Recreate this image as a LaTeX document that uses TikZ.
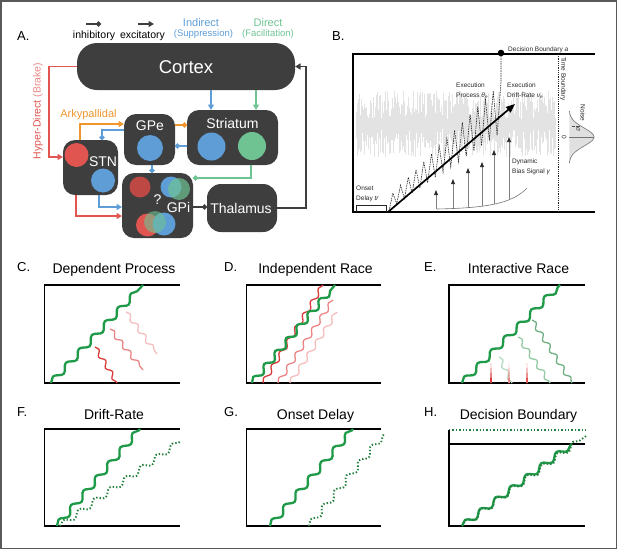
\documentclass[tikz,border=0pt]{standalone}
\usepackage{fontspec}
\setmainfont{Liberation Sans}
\usetikzlibrary{arrows.meta,decorations.pathmorphing}
\newcommand\myfs[1]{\fontsize{#1}{#1}\selectfont}
\definecolor{boxg}{HTML}{3E3E3E}
\definecolor{ablue}{HTML}{5E9DD6}
\definecolor{agreen}{HTML}{6FC393}
\definecolor{ared}{HTML}{E05550}
\definecolor{alred}{HTML}{EA8A86}
\definecolor{aorange}{HTML}{F0962E}
\definecolor{cgreen}{HTML}{1E9A48}
\definecolor{dgreen}{HTML}{23803E}
\definecolor{cred}{HTML}{D93A3A}
\definecolor{cpink}{HTML}{EB8585}
\definecolor{clight}{HTML}{F5BDBD}
\definecolor{elight}{HTML}{B5DCC0}
\definecolor{emid}{HTML}{94CBA4}
\definecolor{edark}{HTML}{6FAE83}
\begin{document}
\begin{tikzpicture}[x=1pt,y=-1pt,
  region/.style={fill=boxg, rounded corners=12pt, inner sep=0pt, outer sep=0pt},
  boxtext/.style={text=white, font=\myfs{14}, inner sep=0pt},
  conn/.style={line width=1.6pt},
  exc/.style={-{Triangle[length=5.5pt,width=6pt]}},
  inh/.style={-{Circle[length=5pt]}},
  frame/.style={line width=1.7pt, line join=miter},
  wig/.style={decorate, decoration={snake, amplitude=3pt, segment length=#1}},
  wig/.default=19pt,
  wigs/.style={decorate, decoration={snake, amplitude=2.2pt, segment length=#1}},
  wigs/.default=13pt,
  lead/.style={cgreen, line width=2.3pt},
  loser/.style={line width=1.3pt},
  dotg/.style={dgreen, line width=1.9pt, dash pattern=on 1.4pt off 2pt},
  title/.style={font=\myfs{14}, anchor=base, inner sep=0pt},
  plabel/.style={font=\myfs{13}, anchor=base west, inner sep=0pt},
  small/.style={font=\fontsize{6.5}{9.5}\selectfont, inner sep=0pt, text=black!85, align=left},
]
\useasboundingbox (0,0) rectangle (617,549);
\draw[black!65, line width=1.5pt] (0.75,0.75) rectangle (616.25,548.25);

% ================= Panel A =================
\node[plabel] (labA) at (17,40.5) {A.};
\coordinate (li1) at (86,24); \coordinate (li2) at (101,24);
\coordinate (le1) at (138,24); \coordinate (le2) at (154,24);
\draw[conn, boxg, inh] (li1) -- (li2);
\draw[conn, boxg, exc] (le1) -- (le2);
\node[font=\myfs{10.5}, anchor=base, inner sep=0pt] (tinh) at (94,38.5) {inhibitory};
\node[font=\myfs{10.5}, anchor=base, inner sep=0pt] (texc) at (142.5,38.5) {excitatory};
\node[font=\myfs{11}, anchor=base, inner sep=0pt, text=ablue] (tind) at (201,26) {Indirect};
\node[font=\myfs{9.5}, anchor=base, inner sep=0pt, text=ablue] (tsup) at (203.5,36.5) {(Suppression)};
\node[font=\myfs{11}, anchor=base, inner sep=0pt, text=agreen] (tdir) at (268,26) {Direct};
\node[font=\myfs{9.5}, anchor=base, inner sep=0pt, text=agreen] (tfac) at (268,36.5) {(Facilitation)};

\node[region, rounded corners=20pt, minimum width=218pt, minimum height=47pt] (cortex) at (186,66.5) {};
\node[boxtext, font=\myfs{18.5}] (cortexl) at (186,67) {Cortex};
\node[region, minimum width=91pt, minimum height=55pt] (striatum) at (232.5,137.5) {};
\node[boxtext] (striatuml) at (232.5,123) {Striatum};
\node[region, minimum width=51pt, minimum height=51pt] (gpe) at (149.5,139.5) {};
\node[boxtext] (gpel) at (150,125.5) {GPe};
\node[region, minimum width=55pt, minimum height=55pt] (stn) at (90.5,167.5) {};
\node[boxtext] (stnl) at (103,162) {STN};
\node[region, minimum width=71pt, minimum height=65pt] (gpi) at (157.5,205.5) {};
\node[region, rounded corners=14pt, minimum width=70pt, minimum height=48pt] (thalamus) at (242,208) {};
\node[boxtext] (thalamusl) at (241,208.5) {Thalamus};

% circles
\fill[ablue] (211.5,146.5) circle (14pt);
\fill[agreen] (252,146) circle (14pt);
\fill[ablue] (150,148) circle (13pt);
\fill[ared] (76.5,155) circle (12pt);
\fill[ablue] (103,180.5) circle (12pt);
\fill[ared!85!black] (140,187) circle (10.5pt);
\fill[ablue] (171,187) circle (10.5pt);
\fill[agreen, opacity=0.7] (179,189) circle (11pt);
\fill[ared] (147.5,225) circle (11.5pt);
\fill[ablue] (164,224) circle (11.5pt);
\fill[agreen, opacity=0.6] (155,222) circle (11pt);
\node[boxtext] (qm) at (157.5,200) {?};
\node[boxtext] (gpil) at (178.5,207.5) {GPi};

% connectors
\draw[conn, ablue, exc] (cortex.south -| 211,0) -- (striatum.north -| 211,0);
\draw[conn, agreen, exc] (cortex.south -| 256,0) -- (striatum.north -| 256,0);
\draw[conn, ared, exc] (cortex.west) -| (49,157) -- (stn.west |- 0,157);
\draw[conn, aorange, exc] (stn.north -| 80,0) |- (gpe.west |- 0,124);
\draw[conn, aorange, inh] (gpe.east |- 0,125) -- (striatum.west |- 0,125);
\draw[conn, ablue, inh] (gpe.west |- 0,130) -| (stn.north -| 102,0);
\draw[conn, ablue, inh] (striatum.west |- 0,146) -- (gpe.east |- 0,146);
\draw[conn, ablue, inh] (gpe.south -| 152,0) -- (gpi.north -| 152,0);
\draw[conn, agreen, inh] (striatum.south -| 251,0) |- (gpi.east |- 0,178);
\draw[conn, ablue, exc] (stn.south -| 99,0) |- (gpi.west |- 0,207);
\draw[conn, ared, exc] (stn.south -| 76,0) |- (gpi.west |- 0,216);
\draw[conn, boxg, inh] (gpi.east |- 0,207) -- (thalamus.west |- 0,207);
\draw[conn, boxg, exc] (thalamus.east) -| (306,66.5) -- (cortex.east);

\node[font=\myfs{11}, anchor=base, inner sep=0pt, text=aorange] (tark) at (88.5,117.3) {Arkypallidal};
\node[font=\myfs{10.5}, rotate=90, inner sep=0pt] (thyp) at (38,111) {\textcolor{ared}{Hyper-Direct} \textcolor{alred}{(Brake)}};

% ================= Panel B =================
\node[plabel] (labB) at (332,40) {B.};
\pgfmathsetseed{42}
\foreach \i in {0,...,284} {
  \pgfmathsetmacro\ya{124-5-rnd*28}
  \pgfmathsetmacro\yb{124+5+rnd*28}
  \draw[black!11, line width=0.3pt] ({356+\i*0.7},\ya) -- ({356+\i*0.7},\yb);
}
\draw[frame] (595,54) -- (353,54) -- (353,212) -- (595,212);
\draw[black!85, line width=0.7pt, dash pattern=on 0.8pt off 1pt] (558,54) -- (558,212);
\node[small, rotate=-90, anchor=west] (ttime) at (563,57) {Time Boundary};
% gaussian noise
\fill[black!12] plot[domain=-26:26, samples=60, variable=\t] ({569+25*exp(-(\t*\t)/162)},{137+\t}) -- cycle;
\draw[black!55, line width=0.6pt] plot[domain=-26:26, samples=60, variable=\t] ({569+25*exp(-(\t*\t)/162)},{137+\t});
\draw[black!55, line width=0.5pt] (569,137) -- (594,137);
\draw[black!70, line width=0.5pt, dash pattern=on 0.6pt off 0.6pt] (572,126) -- (580,126);
\node[small, rotate=-90] (tnoise) at (583,113) {Noise};
\node[small, rotate=-90] (tsig) at (578,130) {\textit{σ}};
\node[small, rotate=-90] (tzero) at (564,137) {0};
% onset delay
\draw[black!85, line width=0.5pt] (356,212) -- (356,205) -- (386,205) -- (386,212);
\node[small, anchor=north west] (tons) at (356,186) {Onset\\Delay \textit{tr}};
% bias signal
\draw[black!55, line width=0.6pt] (437,209) .. controls (485,208) and (512,204) .. (527,188);
\foreach \x/\yb/\yt in {436/209/190, 453/208.7/179, 468/207.8/168, 482/206/162, 494/204/150, 509/199.5/137}
  \draw[black!50, line width=0.7pt, -{Triangle[length=5pt,width=3.8pt,color=black!85]}] (\x,\yb) -- (\x,\yt);
\node[small, anchor=north west] (tbias) at (512,159) {Dynamic\\Bias Signal \textit{γ}};
% execution process zigzag
\draw[black!85, line width=0.6pt, dash pattern=on 1.5pt off 0.9pt] (389,211)
  \foreach \i in {1,...,29} { -- ({389+\i*3.86},{203-\i*3.86*0.85+(1-2*mod(\i,2))*(6+\i*0.65)}) } -- (501,53);
\draw[line width=1.7pt, -{Triangle[length=9pt,width=7pt]}] (388,212) -- (515,104);
\fill (501,53) circle (3.3pt);
\node[small, anchor=base west] (tdb) at (508,51) {Decision Boundary \textit{a}};
\node[small, anchor=north west] (texp) at (456,83) {Execution\\Process \textit{θ}\textsubscript{\textit{e}}};
\node[small, anchor=north west] (texd) at (507,83) {Execution\\Drift-Rate \textit{ν}\textsubscript{\textit{e}}};

% ================= Panel C =================
\node[plabel] (labC) at (17,271) {C.};
\node[title] (titC) at (114,273) {Dependent Process};
\draw[frame] (180,285) -- (44.5,285) -- (44.5,383) -- (180,383);
\draw[loser, clight, wigs] (126,312) -- (157,354);
\draw[loser, cpink, wigs] (110,329) -- (143,370);
\draw[loser, cred, wigs] (95,347) -- (117,383);
\draw[lead, wig] (51,383) -- (143,285);

% ================= Panel D =================
\node[plabel] (labD) at (224,271) {D.};
\node[title] (titD) at (315.5,273) {Independent Race};
\draw[frame] (381,285) -- (246.5,285) -- (246.5,383) -- (381,383);
\draw[loser, clight, wigs=15pt] (290,383) -- (337,312);
\draw[loser, cpink, wigs=15pt] (278,383) -- (333,300);
\draw[loser, cred, wigs=15pt] (263,383) -- (323,285);
\draw[lead, wig=17pt] (252,383) -- (335,285);

% ================= Panel E =================
\node[plabel] (labE) at (424,271) {E.};
\node[title] (titE) at (518.5,273) {Interactive Race};
\draw[frame] (585,285) -- (449,285) -- (449,383) -- (585,383);
\draw[loser, elight, wigs] (499,357) -- (512,383);
\draw[loser, emid, wigs] (518,337) -- (550,383);
\draw[loser, edark, wigs] (532,320) -- (572,383);
\fill[cred] (490,383) -- (491,363) -- (492,383) -- cycle;
\fill[cpink] (508,383) -- (509,363) -- (510,383) -- cycle;
\fill[ared] (526,383) -- (527,363) -- (528,383) -- cycle;
\draw[lead, wig] (462,383) -- (560,285);

% ================= Panel F =================
\node[plabel] (labF) at (17,416.5) {F.};
\node[title] (titF) at (114,419) {Drift-Rate};
\draw[frame] (180,429) -- (44.5,429) -- (44.5,526) -- (180,526);
\draw[dotg, wig] (60,526) -- (181,441);
\draw[lead, wig] (57,526) -- (140,429);

% ================= Panel G =================
\node[plabel] (labG) at (224,416.5) {G.};
\node[title] (titG) at (315.5,419) {Onset Delay};
\draw[frame] (381,429) -- (246.5,429) -- (246.5,526) -- (381,526);
\draw[dotg, wig] (309,526) -- (385,433);
\draw[lead, wig] (270,526) -- (353,429);

% ================= Panel H =================
\node[plabel] (labH) at (424,416.5) {H.};
\node[title] (titH) at (518.5,419) {Decision Boundary};
\draw[dotg] (449,430) -- (586,430);
\draw[frame] (585,444) -- (449,444);
\draw[frame] (449,429.5) -- (449,526) -- (585,526);
\draw[lead, wig] (462,526) -- (572,444);
\draw[dotg, wig] (462,526) -- (586,436);
\end{tikzpicture}
\end{document}
